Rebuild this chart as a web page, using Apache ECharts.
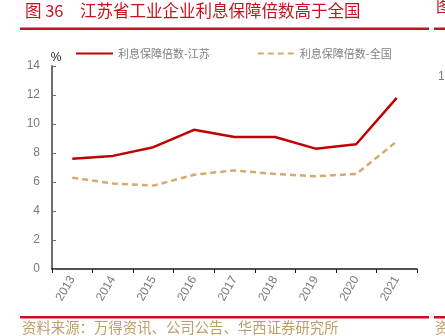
<!DOCTYPE html>
<html>
<head>
<meta charset="utf-8">
<script src="https://cdn.jsdelivr.net/npm/echarts@6/dist/echarts.min.js"></script>
<style>
  html, body { margin: 0; padding: 0; background: #fff; }
  #chart { width: 445px; height: 336px; }
</style>
</head>
<body>
<div id="chart"></div>
<script>
// Interest coverage ratio of industrial enterprises, Jiangsu vs. national
const years = ['2013', '2014', '2015', '2016', '2017', '2018', '2019', '2020', '2021'];
const jiangsu = [7.6, 7.8, 8.4, 9.6, 9.1, 9.1, 8.3, 8.6, 11.8];
const national = [6.3, 5.9, 5.75, 6.5, 6.8, 6.55, 6.4, 6.55, 8.8];
const seriesNames = ['利息保障倍数-江苏', '利息保障倍数-全国'];
const yTicks = { min: 0, max: 14, interval: 2 };

const titleText = '图 36\u3000江苏省工业企业利息保障倍数高于全国';
const sourceText = '资料来源：万得资讯、公司公告、华西证券研究所';

const cjk = '"Noto Sans CJK SC", "Noto Sans", sans-serif';
const latin = '"Liberation Sans", Arial, sans-serif';
const red = '#c8101e';
const tan = '#bf9d68';
const redLine = '#c00000';
const tanLine = '#d4aa6e';

const chart = echarts.init(document.getElementById('chart'), null, { renderer: 'canvas' });

chart.setOption({
  animation: false,
  backgroundColor: '#ffffff',
  title: {
    text: titleText,
    left: 20,
    top: -3,
    textStyle: { color: red, fontSize: 16.5, fontWeight: 'normal', fontFamily: cjk }
  },
  legend: {
    top: 43,
    left: 70,
    itemWidth: 37,
    itemHeight: 12,
    itemGap: 47,
    textStyle: { color: '#808080', fontSize: 11, fontFamily: cjk },
    data: [
      { name: seriesNames[0], itemStyle: { opacity: 0 } },
      { name: seriesNames[1], itemStyle: { opacity: 0 } }
    ]
  },
  grid: { left: 52, right: 28, top: 66, bottom: 67, containLabel: false },
  xAxis: {
    type: 'category',
    data: years,
    boundaryGap: true,
    axisLine: { lineStyle: { color: '#1a1a1a', width: 1.5 } },
    axisTick: { show: true, inside: false, length: 4, lineStyle: { color: '#1a1a1a' } },
    axisLabel: { rotate: 60, margin: 8, color: '#7a7a7a', fontSize: 12, fontFamily: latin },
    splitLine: { show: false }
  },
  yAxis: {
    type: 'value',
    min: yTicks.min,
    max: yTicks.max,
    interval: yTicks.interval,
    name: '%',
    nameLocation: 'end',
    nameGap: 2,
    nameTextStyle: { color: '#222', fontSize: 12, fontFamily: latin, padding: [0, 0, 0, 8] },
    axisLine: { show: true, lineStyle: { color: '#6e6e6e', width: 2 } },
    axisTick: { show: true, inside: true, length: 4, lineStyle: { color: '#6e6e6e' } },
    axisLabel: { color: '#7a7a7a', fontSize: 12, fontFamily: latin, margin: 12 },
    splitLine: { show: false }
  },
  series: [
    {
      name: seriesNames[0],
      type: 'line',
      data: jiangsu,
      symbol: 'none',
      lineStyle: { color: redLine, width: 2.5 },
      itemStyle: { color: redLine }
    },
    {
      name: seriesNames[1],
      type: 'line',
      data: national,
      symbol: 'none',
      lineStyle: { color: tanLine, width: 2.5, type: [6, 4] },
      itemStyle: { color: tanLine }
    }
  ],
  graphic: [
    // rule under the title
    { type: 'rect', shape: { x: 20, y: 27.5, width: 409, height: 2.5 }, style: { fill: red }, silent: true },
    // rule above the source note
    { type: 'rect', shape: { x: 20, y: 316, width: 409, height: 2.5 }, style: { fill: red }, silent: true },
    // source note
    { type: 'text', left: 22, top: 320, style: { text: sourceText, fill: tan, fontSize: 14.4, fontFamily: cjk } },
    // edge of the neighbouring panel
    { type: 'rect', shape: { x: 434, y: 27.5, width: 11, height: 2.5 }, style: { fill: red }, silent: true },
    { type: 'rect', shape: { x: 434, y: 316, width: 11, height: 2.5 }, style: { fill: red }, silent: true },
    { type: 'text', x: 436, y: -3, style: { text: '图', fill: red, fontSize: 16.5, fontFamily: cjk } },
    { type: 'text', x: 438, y: 71, style: { text: '1', fill: '#7a7a7a', fontSize: 12, fontFamily: latin } },
    { type: 'text', x: 435, y: 320, style: { text: '资', fill: tan, fontSize: 14.4, fontFamily: cjk } }
  ]
});
</script>
</body>
</html>
